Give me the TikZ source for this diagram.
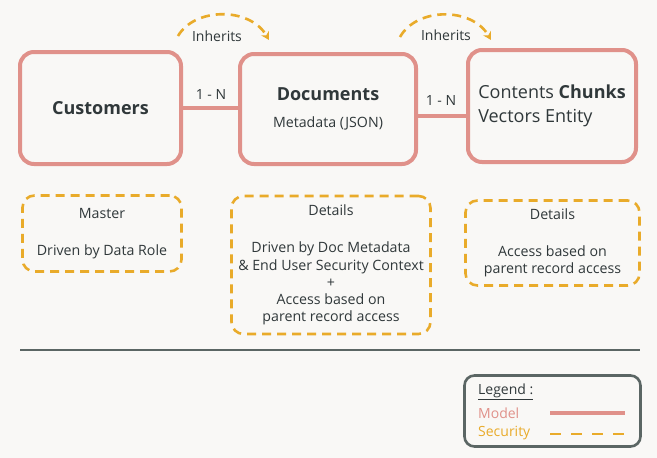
\documentclass[tikz,border=0pt]{standalone}
\usepackage{fontspec}
\setmainfont{Open Sans}
\usetikzlibrary{arrows.meta}
\definecolor{bgcol}{HTML}{F9F8F6}
\definecolor{modelcol}{HTML}{E0918A}
\definecolor{seccol}{HTML}{E9AB2A}
\definecolor{inkcol}{HTML}{30383A}
\definecolor{rulecol}{HTML}{5B6664}
\tikzstyle{entity} = [rectangle, rounded corners=14pt,
line width=4pt,
draw=modelcol,
text=inkcol,
font=\fontsize{18}{24}\selectfont]
\tikzstyle{access} = [rectangle, rounded corners=12pt,
line width=2.6pt,
dash pattern=on 9pt off 6pt,
draw=seccol,
text=inkcol,
align=center,
font=\fontsize{14.2}{17.3}\selectfont]
\tikzstyle{link} = [line width=4pt, draw=modelcol]
\tikzstyle{inherit} = [line width=2.6pt, dash pattern=on 9pt off 6pt, draw=seccol, -{Stealth[length=8pt,width=9pt]}]
\tikzstyle{tag} = [text=inkcol, font=\fontsize{14}{16}\selectfont]

\begin{document}
\begin{tikzpicture}[x=1pt, y=-1pt]
			\fill[bgcol] (0,0) rectangle (657,458);
			\useasboundingbox (0,0) rectangle (657,458);

			% model entities
			\node (cust) [entity, minimum width=161pt, minimum height=112pt] at (100.5,108) {\textbf{Customers}};
			\node (docs) [entity, minimum width=176pt, minimum height=110pt, align=center] at (328,109) {\textbf{Documents}\\[3pt]{\fontsize{14.2}{16}\selectfont Metadata (JSON)}};
			\node (chunks) [entity, minimum width=168pt, minimum height=112pt, align=left] at (552,106) {Contents \textbf{Chunks}\\Vectors Entity};

			\draw[link] (cust.east) -- (cust.east -| docs.west);
			\draw[link] ([yshift=-7pt]docs.east) -- ([yshift=-7pt]docs.east -| chunks.west);
			\node (card1) [tag] at (211,95) {1 - N};
			\node (card2) [tag] at (441,101) {1 - N};

			% inheritance
			\coordinate (inh1s) at (178,36);
			\coordinate (inh1e) at (269,40);
			\coordinate (inh2s) at (400,37);
			\coordinate (inh2e) at (491,40);
			\draw[inherit] (inh1s) .. controls (195,7) and (250,7) .. (inh1e);
			\draw[inherit] (inh2s) .. controls (417,7) and (472,7) .. (inh2e);
			\node (inh1) [tag] at (217,36) {Inherits};
			\node (inh2) [tag] at (446,35) {Inherits};

			% security rules
			\node (master) [access, minimum width=159pt, minimum height=76pt] at (102,233.5) {Master\\[20pt]Driven by Data Role};
			\node (docsec) [access, minimum width=199pt, minimum height=138pt] at (331,265) {Details\\[20pt]Driven by Doc Metadata\\\& End User Security Context\\+\\Access based on\\parent record access};
			\node (chunksec) [access, minimum width=174pt, minimum height=85pt] at (552.5,243) {Details\\[19pt]Access based on\\parent record access};

			\draw[line width=2.6pt, rulecol] (20,350) -- (640,350);

			% legend
			\node (legend) [draw=rulecol, line width=2.6pt, rounded corners=10pt, minimum width=176pt, minimum height=71pt] at (552.5,411) {};
			\node (legtitle) [tag, anchor=west, inner sep=0pt] at (478,392) {\underline{Legend :}};
			\node (legmodel) [tag, text=modelcol, anchor=west, inner sep=0pt] at (478,413) {Model};
			\node (legsec) [tag, text=seccol, anchor=west, inner sep=0pt] at (478,433) {Security};
			\coordinate (lm1) at (550,413);
			\coordinate (lm2) at (625,413);
			\coordinate (ls1) at (550,434);
			\coordinate (ls2) at (625,434);
			\draw[link] (lm1) -- (lm2);
			\draw[line width=2.6pt, dash pattern=on 11pt off 10pt, seccol] (ls1) -- (ls2);
		\end{tikzpicture}
\end{document}
